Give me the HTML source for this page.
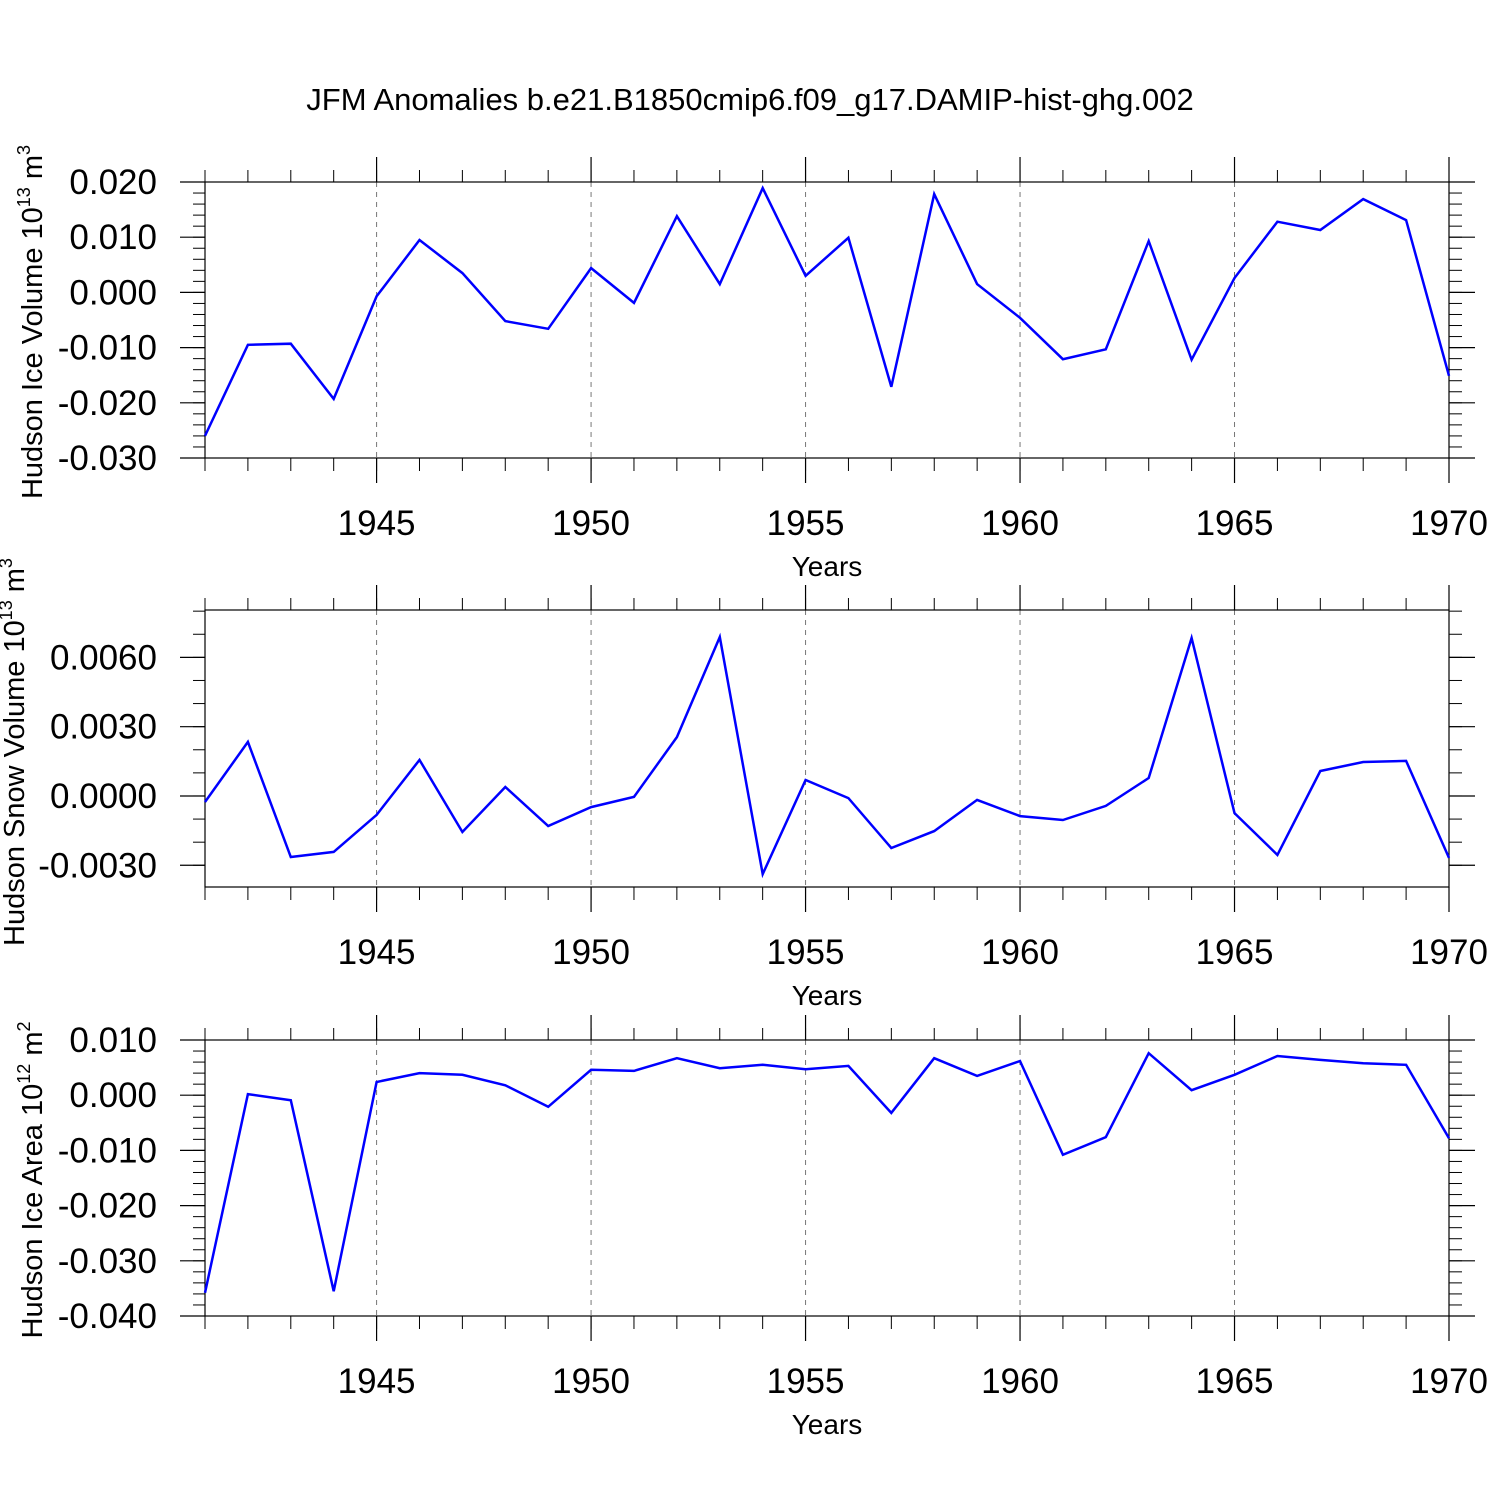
<!DOCTYPE html>
<html><head><meta charset="utf-8"><style>
body{margin:0;background:#fff}
svg{display:block;font-family:"Liberation Sans",sans-serif}
</style></head><body>
<svg id="c" width="1500" height="1500" viewBox="0 0 1500 1500">
<text x="750" y="110" font-size="31" text-anchor="middle">JFM Anomalies b.e21.B1850cmip6.f09_g17.DAMIP-hist-ghg.002</text>
</svg>
<script>
const years = [1941,1942,1943,1944,1945,1946,1947,1948,1949,1950,1951,1952,1953,1954,1955,1956,1957,1958,1959,1960,1961,1962,1963,1964,1965,1966,1967,1968,1969,1970];
const iceVolume = [-0.026,-0.0095,-0.0093,-0.0193,-0.0007,0.0095,0.0035,-0.0052,-0.0066,0.0044,-0.0019,0.0138,0.0015,0.0189,0.0030,0.0099,-0.0171,0.0178,0.0015,-0.0046,-0.0121,-0.0103,0.0093,-0.0122,0.0026,0.0128,0.0113,0.0169,0.0131,-0.0151];
const snowVolume = [-0.00026,0.00234,-0.00264,-0.00242,-0.00082,0.00156,-0.00156,0.00039,-0.0013,-0.00048,-0.00004,0.00255,0.00688,-0.00338,0.00069,-0.00009,-0.00225,-0.00152,-0.00017,-0.00087,-0.00104,-0.00043,0.00078,0.00684,-0.00074,-0.00255,0.00108,0.00147,0.00152,-0.00268];
const iceArea = [-0.0358,0.0002,-0.0009,-0.0355,0.0024,0.0040,0.0037,0.0018,-0.0021,0.0046,0.0044,0.0067,0.0049,0.0055,0.0047,0.0053,-0.0032,0.0067,0.0035,0.0062,-0.0108,-0.0076,0.0076,0.0009,0.0037,0.0071,0.0064,0.0058,0.0055,-0.0078];
const xTicks = [1945,1950,1955,1960,1965,1970];
const yTicks1 = [0.020,0.010,0.000,-0.010,-0.020,-0.030];
const yLabels1 = ["0.020","0.010","0.000","-0.010","-0.020","-0.030"];
const yTicks2 = [0.006,0.003,0.0,-0.003];
const yLabels2 = ["0.0060","0.0030","0.0000","-0.0030"];
const yTicks3 = [0.010,0.000,-0.010,-0.020,-0.030,-0.040];
const yLabels3 = ["0.010","0.000","-0.010","-0.020","-0.030","-0.040"];

const svg = document.getElementById('c');
const NS = 'http://www.w3.org/2000/svg';
function mk(tag, attrs, parent){const e=document.createElementNS(NS,tag);for(const k in attrs)e.setAttribute(k,attrs[k]);(parent||svg).appendChild(e);return e;}
const X0=205,X1=1449;
const xs = y => X0+(y-1941)/(1970-1941)*(X1-X0);

function panel(id, top, bot, ymax, ymin, data, ticks, labels, minorStep, titleMain, sup, unit, unitSup, titleX, titleY){
  const g = mk('g',{});
  
  
  const ys = v => top+(ymax-v)/(ymax-ymin)*(bot-top);
  xTicks.forEach(t=>{ if(t<1970){const l=mk('line',{x1:xs(t),x2:xs(t),y1:top,y2:bot,stroke:'#777','stroke-width':1,'stroke-dasharray':'5,5'},g);
    
    }});
  years.forEach(y=>{const x=xs(y);
    mk('line',{x1:x,x2:x,y1:top-12,y2:top,stroke:'#000','stroke-width':1},g);
    mk('line',{x1:x,x2:x,y1:bot,y2:bot+13,stroke:'#000','stroke-width':1},g);});
  xTicks.forEach(t=>{const x=xs(t);
    mk('line',{x1:x,x2:x,y1:top-25,y2:top,stroke:'#000','stroke-width':1.2},g);
    mk('line',{x1:x,x2:x,y1:bot,y2:bot+25,stroke:'#000','stroke-width':1.2},g);
    const tx=mk('text',{x:x,y:bot+77,'font-size':35,'text-anchor':'middle'},g);tx.textContent=t;
    
    });
  const start=Math.ceil(ymin/minorStep-1e-6);
  for(let i=start;i*minorStep<=ymax+1e-9;i++){const y=ys(i*minorStep);
    mk('line',{x1:X0-12,x2:X0,y1:y,y2:y,stroke:'#000','stroke-width':1},g);
    mk('line',{x1:X1,x2:X1+13,y1:y,y2:y,stroke:'#000','stroke-width':1},g);}
  ticks.forEach((t,i)=>{const y=ys(t);
    mk('line',{x1:X0-25,x2:X0,y1:y,y2:y,stroke:'#000','stroke-width':1.2},g);
    mk('line',{x1:X1,x2:X1+26,y1:y,y2:y,stroke:'#000','stroke-width':1.2},g);
    const tx=mk('text',{x:157,y:y+12,'font-size':35,'text-anchor':'end'},g);tx.textContent=labels[i];
    
    });
  const fr=mk('rect',{x:X0,y:top,width:X1-X0,height:bot-top,fill:'none',stroke:'#000','stroke-width':1.2},g);
  
  
  const pts=data.map((v,i)=>xs(years[i]).toFixed(1)+','+ys(v).toFixed(1)).join(' ');
  const pl=mk('polyline',{points:pts,fill:'none',stroke:'#0000ff','stroke-width':2.5},g);
  
  
  const xt=mk('text',{x:827,y:bot+118,'font-size':28,'text-anchor':'middle'},g);xt.textContent='Years';
  
  
  const yt=mk('text',{transform:`translate(${titleX},${titleY}) rotate(-90)`,'font-size':29,'text-anchor':'middle'},g);
  yt.innerHTML=titleMain+'<tspan font-size="18" dy="-12">'+sup+'</tspan><tspan dy="12"> '+unit+'</tspan><tspan font-size="18" dy="-12">'+unitSup+'</tspan>';
  
  
}
panel('ice-volume',182,458,0.020,-0.030,iceVolume,yTicks1,yLabels1,0.002,'Hudson Ice Volume 10','13','m','3',42,322);
panel('snow-volume',610,887,0.00805,-0.00394,snowVolume,yTicks2,yLabels2,0.001,'Hudson Snow Volume 10','13','m','3',24,752);
panel('ice-area',1040,1316,0.010,-0.040,iceArea,yTicks3,yLabels3,0.002,'Hudson Ice Area 10','12','m','2',42,1180);
</script>
</body></html>
